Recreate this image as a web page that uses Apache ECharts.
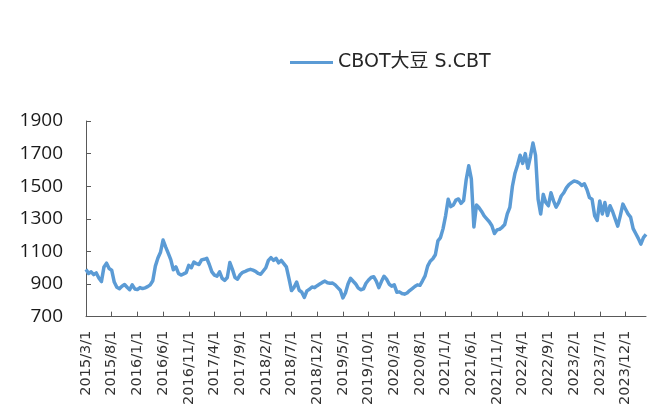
<!DOCTYPE html>
<html>
<head>
<meta charset="utf-8">
<script src="https://cdn.jsdelivr.net/npm/echarts@6/dist/echarts.min.js"></script>
<style>
  html, body { margin: 0; padding: 0; background: #fff; }
  #chart { width: 650px; height: 408px; }
</style>
</head>
<body>
<div id="chart"></div>
<script>
// CBOT soybean (S.CBT) price, sampled on the 1st and 16th of each month
const seriesName = 'CBOT大豆 S.CBT';
const startYear = 2015;
const startMonth = 3;

const soy2015 = [990, 965, 975, 958, 968, 937, 915, 1005, 1028, 995,
                 985, 912, 880, 872, 887, 897, 880, 865, 895, 870];
const soy2016 = [866, 878, 872, 877, 884, 895, 920, 1010, 1060, 1095, 1170, 1128,
                 1090, 1050, 988, 1005, 965, 955, 962, 970, 1015, 1000, 1035, 1025];
const soy2017 = [1020, 1048, 1052, 1058, 1020, 975, 955, 948, 975, 935, 922, 940,
                 1032, 990, 940, 930, 957, 972, 978, 985, 990, 985, 978, 965];
const soy2018 = [960, 980, 1000, 1045, 1062, 1045, 1058, 1030, 1045, 1025, 1005, 935,
                 860, 880, 912, 862, 850, 818, 858, 868, 882, 878, 890, 900];
const soy2019 = [910, 918, 908, 905, 906, 895, 878, 862, 815, 845, 900, 935,
                 917, 900, 875, 865, 870, 905, 925, 940, 945, 918, 878, 915];
const soy2020 = [948, 930, 900, 887, 895, 850, 852, 842, 838, 845, 860, 872,
                 885, 895, 892, 920, 950, 1010, 1040, 1055, 1080, 1165, 1185, 1240];
const soy2021 = [1320, 1420, 1375, 1385, 1415, 1422, 1395, 1412, 1540, 1625, 1545, 1250,
                 1385, 1368, 1345, 1318, 1300, 1282, 1258, 1210, 1232, 1236, 1248, 1265];
const soy2022 = [1330, 1370, 1500, 1580, 1630, 1690, 1640, 1700, 1610, 1682, 1765, 1690,
                 1420, 1330, 1450, 1400, 1380, 1460, 1410, 1372, 1400, 1440, 1460, 1490];
const soy2023 = [1510, 1522, 1532, 1528, 1520, 1505, 1515, 1480, 1430, 1420, 1320, 1290,
                 1410, 1330, 1400, 1320, 1380, 1345, 1300, 1255, 1320, 1390, 1360, 1330];
const soy2024 = [1310, 1240, 1210, 1180, 1145, 1185, 1205];

const prices = [].concat(soy2015, soy2016, soy2017, soy2018, soy2019,
                         soy2020, soy2021, soy2022, soy2023, soy2024);

// Date labels for each half-month slot: "YYYY/M/1" and "YYYY/M/16"
const dates = [];
for (let k = 0; k < prices.length; k++) {
  const monthIndex = startMonth - 1 + Math.floor(k / 2);
  const y = startYear + Math.floor(monthIndex / 12);
  const m = (monthIndex % 12) + 1;
  dates.push(y + '/' + m + '/' + (k % 2 === 0 ? 1 : 16));
}

const yMin = 700, yMax = 1900, yStep = 200;
const labelEvery = 10; // one label every five months
const lineColor = '#5B9BD5';

const chart = echarts.init(document.getElementById('chart'), null, { renderer: 'canvas' });
chart.setOption({
  animation: false,
  backgroundColor: '#ffffff',
  legend: {
    left: 285,
    top: 48,
    itemWidth: 43,
    itemHeight: 3,
    itemGap: 10,
    textStyle: {
      fontFamily: '"DejaVu Sans", "Noto Sans CJK SC", sans-serif',
      fontSize: 19,
      color: '#262626'
    },
    data: [{ name: seriesName, icon: 'rect', itemStyle: { color: lineColor } }]
  },
  grid: { left: 86, right: 4, top: 121, bottom: 89, containLabel: false },
  xAxis: {
    type: 'category',
    data: dates,
    boundaryGap: false,
    axisLine: { lineStyle: { color: '#595959', width: 1 } },
    axisTick: {
      inside: true,
      length: 5,
      interval: (i) => i % labelEvery === 0,
      lineStyle: { color: '#595959' }
    },
    axisLabel: {
      interval: (i) => i % labelEvery === 0,
      rotate: 90,
      margin: 14,
      fontFamily: '"DejaVu Sans", sans-serif',
      fontSize: 14.5,
      color: '#333333'
    },
    splitLine: { show: false }
  },
  yAxis: {
    type: 'value',
    min: yMin,
    max: yMax,
    interval: yStep,
    axisLine: { show: true, lineStyle: { color: '#595959', width: 1 } },
    axisTick: { show: true, inside: true, length: 5, lineStyle: { color: '#595959' } },
    axisLabel: {
      margin: 23,
      fontFamily: '"Open Sans", sans-serif',
      fontSize: 19,
      color: '#1a1a1a',
      formatter: (v) => String(v)
    },
    splitLine: { show: false }
  },
  series: [{
    name: seriesName,
    type: 'line',
    data: prices,
    symbol: 'none',
    showSymbol: false,
    smooth: false,
    lineStyle: { color: lineColor, width: 3.5, join: 'round' },
    itemStyle: { color: lineColor }
  }]
});
</script>
</body>
</html>
